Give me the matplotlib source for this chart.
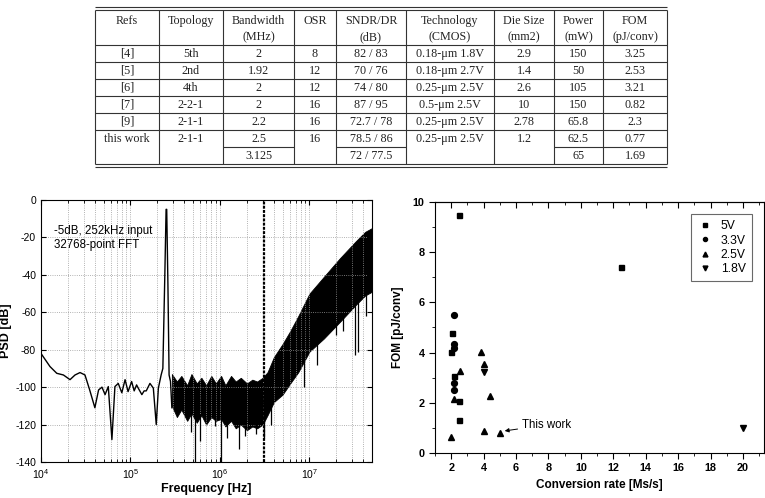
import numpy as np
import matplotlib
matplotlib.use("Agg")
import matplotlib.pyplot as plt
from matplotlib.ticker import LogLocator, MultipleLocator, NullFormatter

plt.rcParams['axes.unicode_minus'] = False

# ---------------- table data ----------------
table_header = [("Refs",), ("Topology",), ("Bandwidth", "(MHz)"), ("OSR",),
                ("SNDR/DR", "(dB)"), ("Technology", "(CMOS)"), ("Die Size", "(mm2)"),
                ("Power", "(mW)"), ("FOM", "(pJ/conv)")]
refs = ["[4]", "[5]", "[6]", "[7]", "[9]", "this work"]
topology = ["5th", "2nd", "4th", "2-2-1", "2-1-1", "2-1-1"]
bandwidth = ["2", "1.92", "2", "2", "2.2", "2.5", "3.125"]
osr = ["8", "12", "12", "16", "16", "16"]
sndr_dr = ["82 / 83", "70 / 76", "74 / 80", "87 / 95", "72.7 / 78", "78.5 / 86", "72 / 77.5"]
technology = ["0.18-μm 1.8V", "0.18-μm 2.7V", "0.25-μm 2.5V", "0.5-μm 2.5V",
              "0.25-μm 2.5V", "0.25-μm 2.5V"]
die_size = ["2.9", "1.4", "2.6", "10", "2.78", "1.2"]
power = ["150", "50", "105", "150", "65.8", "62.5", "65"]
fom = ["3.25", "2.53", "3.21", "0.82", "2.3", "0.77", "1.69"]

# ---------------- PSD data ----------------
lf_freq = [1.0e4, 1.26e4, 1.5e4, 1.78e4, 2.11e4, 2.4e4, 2.73e4, 3.1e4, 3.5e4, 4.0e4,
           4.4e4, 4.8e4, 5.2e4, 5.65e4, 6.2e4, 6.7e4, 7.3e4, 8.0e4, 8.7e4, 9.4e4,
           1.03e5, 1.1e5, 1.17e5, 1.22e5, 1.34e5, 1.42e5, 1.5e5, 1.65e5, 1.8e5, 1.94e5,
           2.05e5, 2.2e5, 2.3e5, 2.42e5, 2.5e5, 2.54e5, 2.62e5, 2.7e5, 2.8e5, 2.9e5]
lf_db = [-82, -89, -92.6, -93.5, -96, -93.5, -92.2, -93.5, -101.5, -111,
         -101.5, -100, -104, -99.7, -128, -99.7, -98, -103, -96, -102.4,
         -97, -102, -98.8, -100.5, -104, -102, -102, -98, -100.5, -120,
         -100.5, -93.5, -90, -40, -5, -5, -45, -93.5, -97, -111]

band_freq = [2.9e5, 3.3e5, 3.7e5, 4.3e5, 4.8e5, 5.5e5, 6.2e5, 7.0e5, 8.0e5, 9.0e5,
             1.03e6, 1.15e6, 1.33e6, 1.5e6, 1.71e6, 2.0e6, 2.3e6, 2.6e6, 3.0e6, 3.4e6,
             4.0e6, 5.0e6, 6.1e6, 7.5e6, 1.0e7, 1.45e7, 2.2e7, 3.3e7, 4.2e7, 5.0e7]
band_top = [-93, -97, -94, -99, -93, -98, -95, -99, -94, -98,
            -94, -99, -94, -97, -95, -98, -96, -97, -95, -92,
            -84, -77, -70, -62, -50, -41, -31, -22, -17, -15]
band_bot = [-110, -116, -112, -118, -114, -119, -115, -120, -116, -118,
            -117, -121, -118, -122, -120, -123, -121, -122, -120, -115,
            -108, -104, -98, -92, -81, -74, -65, -56, -51, -49]

spike_freq = [3.1e5, 4.8e5, 5.3e5, 6.0e5, 8.7e5, 1.02e6, 1.2e6, 1.65e6, 1.9e6, 2.5e6,
              3.1e6, 3.7e6, 8.6e6, 1.2e7, 2.0e7, 2.38e7, 3.2e7, 3.48e7, 4.3e7]
spike_db = [-112, -124, -140, -129, -121, -140, -127, -133, -126, -125,
            -127, -120, -100, -88, -72, -70, -83, -81, -62]

signal_label = "-5dB, 252kHz input\n32768-point FFT"
band_edge = 3.125e6

# ---------------- FOM scatter data ----------------
sq_x = [2.5, 2.05, 2.0, 2.15, 2.5, 2.5, 12.5]
sq_y = [9.48, 4.78, 4.03, 3.07, 2.08, 1.3, 7.41]
ci_x = [2.17, 2.17, 2.17, 2.17, 2.17]
ci_y = [5.48, 4.35, 4.2, 2.78, 2.5]
tri_x = [2.0, 2.2, 2.55, 3.83, 4.0, 4.41, 4.0, 5.0]
tri_y = [0.65, 2.14, 3.25, 4.02, 3.55, 2.27, 0.89, 0.81]
itri_x = [4.0, 20.0]
itri_y = [3.22, 1.0]

fig = plt.figure(figsize=(7.65, 4.98), dpi=100)

# ---------------- table ----------------
tab = fig.add_axes([0, 0, 1, 1])
tab.set_xlim(0, 765)
tab.set_ylim(498, 0)
tab.axis('off')

col_edges = [95, 159, 223, 294, 336, 406, 494, 554, 603, 667]
row_edges = [45, 62, 79, 96, 113, 130, 147, 164]
serif = dict(family='Liberation Serif', fontsize=8.7, ha='center', va='center', color='#222222')
lc = '#333333'

tab.hlines([7, 10, 45], col_edges[0], col_edges[-1], color=lc, lw=0.8)
tab.hlines(row_edges[1:-2], col_edges[0], col_edges[-1], color=lc, lw=0.8)
tab.hlines([164, 167], col_edges[0], col_edges[-1], color=lc, lw=0.8)
tab.vlines(col_edges, 10, 164, color=lc, lw=0.8)
# split sub-rows in the last entry
for ci in [2, 4, 7, 8]:
    tab.hlines(147, col_edges[ci], col_edges[ci + 1], color=lc, lw=0.8)

centers = [(col_edges[i] + col_edges[i + 1]) / 2 for i in range(len(col_edges) - 1)]
for cx, hdr in zip(centers, table_header):
    for k, line in enumerate(hdr):
        tab.text(cx, 20.5 + 16.5 * k, line, **serif)

columns = [refs, topology, bandwidth, osr, sndr_dr, technology, die_size, power, fom]
for cx, col in zip(centers, columns):
    for r, val in enumerate(col):
        cy = (row_edges[r] + row_edges[r + 1]) / 2
        tab.text(cx, cy, val, **serif)

# ---------------- PSD plot ----------------
ax1 = fig.add_axes([41 / 765, 1 - 462 / 498, 331 / 765, 262 / 498])
ax1.set_xscale('log')
ax1.plot(lf_freq, lf_db, color='black', lw=1.0)
ax1.fill_between(band_freq, band_bot, band_top, color='black', lw=0.6, edgecolor='black')
spike_top = np.interp(np.log10(spike_freq), np.log10(band_freq), band_bot)
ax1.vlines(spike_freq, spike_db, spike_top + 2, color='black', lw=0.9)
ax1.axvline(band_edge, color='black', lw=1.6, linestyle=(0, (1.3, 0.6)))
ax1.set_xlim(1e4, 5e7)
ax1.set_ylim(-140, 0)
ax1.yaxis.set_major_locator(MultipleLocator(20))
ax1.xaxis.set_major_locator(LogLocator(base=10, numticks=10))
ax1.xaxis.set_minor_locator(LogLocator(base=10, subs=np.arange(2, 10), numticks=20))
ax1.xaxis.set_minor_formatter(NullFormatter())
ax1.grid(True, which='major', color='#999999', linestyle=':', lw=0.6)
ax1.grid(True, which='minor', axis='x', color='#999999', linestyle=':', lw=0.6)
ax1.tick_params(which='both', direction='in', top=True, right=True, labelsize=7.5)
ax1.tick_params(which='minor', length=2)
for lbl in ax1.get_xticklabels() + ax1.get_yticklabels():
    lbl.set_family('Liberation Sans')
ax1.set_xlabel("Frequency [Hz]", family='Liberation Sans', fontsize=9, fontweight='bold', labelpad=2)
ax1.set_ylabel("PSD [dB]", family='Liberation Sans', fontsize=9, fontweight='bold', labelpad=2)
ax1.text(1.4e4, -20.5, signal_label, family='Liberation Sans', fontsize=8.3, va='center', linespacing=1.25)
for s in ax1.spines.values():
    s.set_linewidth(0.8)

# ---------------- FOM scatter ----------------
ax2 = fig.add_axes([435 / 765, 1 - 453 / 498, 329 / 765, 251 / 498])
ax2.plot(sq_x, sq_y, 's', color='black', ms=3.6, label='5V')
ax2.plot(ci_x, ci_y, 'o', color='black', ms=4.2, label='3.3V')
ax2.plot(tri_x, tri_y, '^', color='black', ms=5, label='2.5V')
ax2.plot(itri_x, itri_y, 'v', color='black', ms=5, label='1.8V')
ax2.annotate("This work", xy=(5.3, 0.88), xytext=(6.35, 1.12),
             family='Liberation Sans', fontsize=8.3, ha='left', va='center',
             arrowprops=dict(arrowstyle='-|>', color='black', lw=0.7,
                             mutation_scale=6, shrinkA=1, shrinkB=0))
ax2.set_xlim(1, 21.3)
ax2.set_ylim(0, 10)
ax2.xaxis.set_major_locator(MultipleLocator(2))
ax2.xaxis.set_minor_locator(MultipleLocator(1))
ax2.yaxis.set_major_locator(MultipleLocator(2))
ax2.yaxis.set_minor_locator(MultipleLocator(1))
ax2.tick_params(which='both', direction='out', labelsize=7.8)
ax2.tick_params(which='major', length=4)
ax2.tick_params(which='minor', length=2.5)
for lbl in ax2.get_xticklabels() + ax2.get_yticklabels():
    lbl.set_family('Liberation Sans')
    lbl.set_fontweight('bold')
# top axis ticks point inward
top = ax2.secondary_xaxis('top')
top.xaxis.set_major_locator(MultipleLocator(2))
top.xaxis.set_minor_locator(MultipleLocator(1))
top.tick_params(which='both', direction='in', labeltop=False)
top.tick_params(which='major', length=4)
top.tick_params(which='minor', length=2.5)
top.spines['top'].set_linewidth(0.8)
ax2.set_xlabel("Conversion rate [Ms/s]", family='Liberation Sans', fontsize=8.5, fontweight='bold', labelpad=4)
ax2.set_ylabel("FOM [pJ/conv]", family='Liberation Sans', fontsize=8.5, fontweight='bold', labelpad=6)
leg = ax2.legend(loc='upper right', bbox_to_anchor=(0.963, 0.952), borderaxespad=0,
                 frameon=True, fancybox=False,
                 prop={'family': 'Liberation Sans', 'size': 8.7}, handlelength=1.4,
                 handletextpad=0.6, borderpad=0.5, labelspacing=0.2, markerscale=0.7)
leg.get_frame().set_edgecolor('#444444')
leg.get_frame().set_linewidth(0.8)
for s in ax2.spines.values():
    s.set_linewidth(0.8)

fig.savefig("out.png", dpi=100)
